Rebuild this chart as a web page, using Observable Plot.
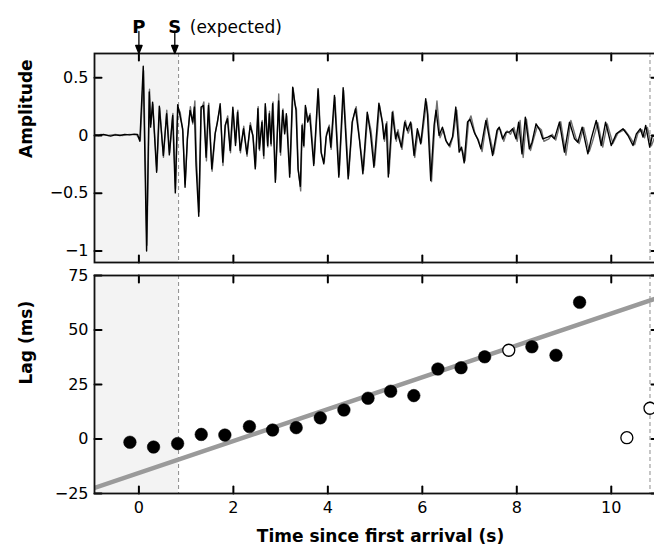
<!DOCTYPE html>
<html><head><meta charset="utf-8">
<script src="https://cdn.jsdelivr.net/npm/d3@7"></script>
<script src="https://cdn.jsdelivr.net/npm/@observablehq/plot@0.6"></script>
<style>
html,body{margin:0;padding:0;background:#fff;overflow:hidden;}
#chart{width:654px;height:556px;overflow:hidden;position:relative;background:#fff;}
#chart svg{display:block;max-width:none !important;}
</style></head><body><div id="chart"></div>
<script>
// ---- axes / ticks ----
const timeTicks = [0, 2, 4, 6, 8, 10];
const ampTicks = [-1, -0.5, 0, 0.5];
const ampTickLabels = ["\u22121", "\u22120.5", "0", "0.5"];
const lagTicks = [-25, 0, 25, 50, 75];
const lagTickLabels = ["\u221225", "0", "25", "50", "75"];
const timeDomain = [-0.94, 11];
const ampDomain = [-1.1, 0.71];
const lagDomain = [-25, 75];
const sExpected = 0.84;
const windowEnd = 10.82;
const phaseNames = ["P", "S"];
const phaseTimes = [0, 0.76];
const sNote = "(expected)";
const xTitle = "Time since first arrival (s)";
const ampTitle = "Amplitude";
const lagTitle = "Lag (ms)";

// ---- waveforms [time (s), amplitude] ----
const blackTrace = [[-0.94,0.005],[-0.85,0.0],[-0.75,0.01],[-0.6,-0.005],[-0.5,0.005],[-0.4,0.0],[-0.3,0.01],[-0.2,0.005],[-0.1,0.012],[-0.03,0.01],[0.02,-0.05],
[0.092,0.60],[0.163,-1.0],[0.219,0.376],[0.248,0.072],[0.290,0.289],[0.375,-0.318],[0.432,0.254],[0.517,-0.173],[0.587,0.188],[0.644,-0.168],[0.715,0.173],[0.771,-0.497],[0.821,0.266],[0.870,0.173],[0.927,0.058],[0.977,-0.448],[1.026,-0.029],[1.083,0.217],[1.139,0.116],[1.175,0.246],[1.210,-0.26],[1.267,-0.70],[1.316,0.246],[1.366,0.26],[1.422,-0.188],[1.472,0.26],[1.543,-0.289],[1.613,0.014],[1.663,0.116],[1.720,0.275],[1.776,-0.231],[1.826,0.087],[1.875,0.145],[1.932,-0.13],[1.989,0.246],[2.045,-0.087],[2.088,0.202],[2.144,-0.13],[2.215,0.058],[2.286,-0.159],[2.357,0.087],[2.413,0.0],[2.463,-0.289],[2.519,0.231],[2.548,-0.116],[2.605,0.116],[2.640,-0.173],[2.675,0.275],[2.725,-0.087],[2.760,0.188],[2.796,-0.072],[2.831,0.275],[2.888,-0.405],[2.958,0.30],[2.994,-0.144],[3.043,0.217],[3.086,0.014],[3.121,0.188],[3.192,-0.361],[3.256,0.419],[3.298,0.289],[3.326,0.217],[3.369,-0.289],[3.418,-0.44],[3.454,0.087],[3.489,-0.087],[3.524,0.26],[3.574,0.116],[3.616,0.173],[3.701,-0.26],[3.793,0.405],[3.857,-0.144],[3.914,-0.246],[3.963,-0.014],[4.020,0.072],[4.062,-0.101],[4.140,0.347],[4.232,-0.361],[4.324,0.413],[4.430,-0.376],[4.515,0.116],[4.586,0.231],[4.671,-0.043],[4.742,-0.332],[4.834,0.202],[4.904,0.014],[4.975,-0.275],[5.081,0.280],[5.152,0.116],[5.188,-0.029],[5.237,0.101],[5.28,-0.36],[5.365,0.202],[5.435,-0.029],[5.471,0.029],[5.556,-0.101],[5.627,0.116],[5.683,0.043],[5.754,0.116],[5.825,-0.173],[5.895,0.058],[5.966,-0.072],[6.002,0.058],[6.072,0.318],[6.108,0.188],[6.178,-0.39],[6.249,0.087],[6.29,0.22],[6.355,0.0],[6.426,0.072],[6.497,-0.043],[6.568,-0.087],[6.639,-0.014],[6.709,0.246],[6.780,-0.144],[6.830,-0.101],[6.886,-0.237],[6.957,0.116],[7.01,0.14],[7.098,0.029],[7.169,-0.029],[7.240,-0.116],[7.346,0.130],[7.396,0.029],[7.488,-0.173],[7.580,0.043],[7.629,0.072],[7.700,-0.029],[7.771,0.029],[7.841,0.029],[7.912,0.058],[7.983,-0.029],[8.040,0.116],[8.110,-0.159],[8.181,0.159],[8.266,-0.116],[8.323,-0.058],[8.408,0.101],[8.493,0.043],[8.549,-0.029],[8.655,-0.014],[8.726,0.0],[8.797,-0.029],[8.903,0.116],[9.009,-0.144],[9.116,0.116],[9.222,-0.029],[9.292,-0.058],[9.384,0.072],[9.505,-0.159],[9.575,-0.029],[9.682,0.130],[9.788,-0.087],[9.880,0.116],[10.000,-0.087],[10.106,0.014],[10.248,0.058],[10.354,0.0],[10.460,-0.087],[10.531,0.014],[10.616,0.058],[10.672,-0.014],[10.729,0.087],[10.814,-0.101],[10.870,0.0],[10.95,-0.014]];

const grayTrace = [[-0.94,0.0],[-0.8,0.008],[-0.65,0.0],[-0.5,0.01],[-0.35,0.0],[-0.2,0.01],[-0.05,0.005],[0.03,-0.04],
[0.10,0.56],[0.17,-0.95],[0.225,0.40],[0.255,0.10],[0.295,0.27],[0.38,-0.30],[0.44,0.24],[0.52,-0.19],[0.59,0.22],[0.65,-0.15],[0.72,0.19],[0.775,-0.46],[0.825,0.24],[0.875,0.20],[0.93,0.03],[0.98,-0.42],[1.03,-0.01],[1.09,0.25],[1.14,0.10],[1.185,0.30],[1.22,-0.22],[1.275,-0.66],[1.32,0.22],[1.375,0.29],[1.43,-0.22],[1.48,0.28],[1.55,-0.31],[1.62,0.03],[1.67,0.14],[1.725,0.25],[1.78,-0.26],[1.835,0.10],[1.88,0.17],[1.94,-0.15],[1.995,0.22],[2.05,-0.06],[2.095,0.22],[2.15,-0.15],[2.22,0.08],[2.29,-0.18],[2.36,0.11],[2.42,-0.02],[2.47,-0.27],[2.525,0.25],[2.555,-0.13],[2.61,0.13],[2.645,-0.20],[2.68,0.25],[2.73,-0.10],[2.765,0.21],[2.80,-0.09],[2.84,0.29],[2.895,-0.38],[2.96,0.36],[3.0,-0.17],[3.05,0.23],[3.09,0.03],[3.13,0.17],[3.20,-0.33],[3.265,0.41],[3.305,0.27],[3.335,0.23],[3.375,-0.30],[3.425,-0.48],[3.46,0.10],[3.495,-0.10],[3.535,0.24],[3.58,0.13],[3.625,0.19],[3.71,-0.24],[3.80,0.39],[3.865,-0.16],[3.925,-0.23],[3.97,0.01],[4.03,0.09],[4.07,-0.12],[4.15,0.33],[4.24,-0.34],[4.335,0.39],[4.44,-0.35],[4.525,0.13],[4.60,0.25],[4.68,-0.07],[4.755,-0.30],[4.845,0.18],[4.915,0.04],[4.99,-0.26],[5.095,0.26],[5.165,0.10],[5.20,-0.05],[5.25,0.12],[5.295,-0.33],[5.38,0.21],[5.45,-0.05],[5.485,0.05],[5.57,-0.12],[5.64,0.13],[5.70,0.02],[5.77,0.10],[5.84,-0.19],[5.91,0.04],[5.98,-0.06],[6.02,0.07],[6.09,0.29],[6.125,0.17],[6.195,-0.40],[6.265,0.10],[6.31,0.30],[6.375,-0.02],[6.445,0.05],[6.515,-0.06],[6.585,-0.10],[6.655,0.00],[6.73,0.22],[6.80,-0.12],[6.85,-0.13],[6.905,-0.22],[6.98,0.12],[7.03,0.17],[7.12,0.01],[7.19,-0.04],[7.265,-0.14],[7.37,0.15],[7.42,0.01],[7.51,-0.16],[7.605,0.06],[7.655,0.05],[7.725,-0.05],[7.795,0.04],[7.865,0.01],[7.94,0.07],[8.01,-0.05],[8.07,0.13],[8.135,-0.19],[8.205,0.14],[8.29,-0.13],[8.35,-0.04],[8.435,0.08],[8.52,0.05],[8.575,-0.05],[8.68,-0.03],[8.75,0.01],[8.825,-0.04],[8.93,0.12],[9.04,-0.17],[9.145,0.13],[9.25,-0.02],[9.32,-0.07],[9.415,0.07],[9.535,-0.14],[9.605,-0.05],[9.715,0.11],[9.82,-0.10],[9.915,0.10],[10.035,-0.07],[10.14,0.02],[10.28,0.05],[10.39,-0.01],[10.495,-0.08],[10.565,0.02],[10.65,0.05],[10.705,-0.02],[10.765,0.07],[10.85,-0.09],[10.95,0.02]];

// ---- lag measurements ----
const lagTime  = [-0.19, 0.31, 0.82, 1.32, 1.82, 2.34, 2.83, 3.33, 3.84, 4.34, 4.85, 5.33, 5.82, 6.33, 6.82, 7.32, 7.83, 8.32, 8.83, 9.33, 10.33, 10.82];
const lagValue = [-1.5, -3.7, -2.1, 2.1, 1.8, 5.7, 4.1, 5.2, 9.7, 13.3, 18.7, 21.9, 19.9, 32.1, 32.7, 37.7, 40.7, 42.3, 38.4, 62.7, 0.6, 14.1];
const lagOpen  = [false,false,false,false,false,false,false,false,false,false,false,false,false,false,false,false,true,false,false,false,true,true];
const fitTime = [-0.94, 11];
const fitLag  = [-22.4, 64.9];

// ---- build tables ----
const lagPoints = lagTime.map((t, i) => ({t, lag: lagValue[i], open: lagOpen[i]}));
const fitLine = fitTime.map((t, i) => ({t, lag: fitLag[i]}));
const phases = phaseNames.map((name, i) => ({name, t: phaseTimes[i]}));

const W = 660, ML = 94, MR = 2;
const TICK = 7;
const font = "'DejaVu Sans', sans-serif";

const arrowShape = {
  draw(context, l) {
    context.moveTo(0, 0);
    context.lineTo(0, -l + 6);
    context.moveTo(0, -l);
    context.lineTo(-3.2, -l + 8);
    context.lineTo(3.2, -l + 8);
    context.closePath();
  }
};
const tickShape = {
  draw(context, l) { context.moveTo(0, 0); context.lineTo(0, -l); }
};

function boxTicks(yTicks) {
  const o = {anchor: "start", length: TICK, shape: tickShape, stroke: "#000", strokeWidth: 2};
  return [
    Plot.vector(timeTicks, {x: d => d, frameAnchor: "bottom", rotate: 0, ...o}),
    Plot.vector(timeTicks, {x: d => d, frameAnchor: "top", rotate: 180, ...o}),
    Plot.vector(yTicks, {y: d => d, frameAnchor: "left", rotate: 90, ...o}),
    Plot.vector(yTicks, {y: d => d, frameAnchor: "right", rotate: -90, ...o})
  ];
}

const baseStyle = {fontFamily: font, fontSize: "16px", color: "#000", background: "transparent", overflow: "visible", maxWidth: "none"};

// ---- top panel ----
const topH = 263, topMT = 53, topMB = 1;
const topChart = Plot.plot({
  width: W, height: topH,
  marginLeft: ML, marginRight: MR, marginTop: topMT, marginBottom: topMB,
  style: baseStyle,
  x: {domain: timeDomain, axis: null},
  y: {domain: ampDomain, axis: null},
  marks: [
    Plot.rect([sExpected], {x1: timeDomain[0], x2: d => d, fill: "#f3f3f3"}),
    Plot.ruleX([sExpected, windowEnd], {x: d => d, stroke: "#8c8c8c", strokeWidth: 1, strokeDasharray: "4,3"}),
    Plot.line(grayTrace, {x: d => d[0], y: d => d[1], stroke: "#707070", strokeWidth: 1.4, clip: true}),
    Plot.line(blackTrace, {x: d => d[0], y: d => d[1], stroke: "#000", strokeWidth: 1.4, clip: true}),
    ...boxTicks(ampTicks),
    Plot.frame({stroke: "#111", strokeWidth: 1.8}),
    Plot.axisY(ampTicks, {tickSize: 0, tickPadding: 6, fontSize: 16, label: null,
      tickFormat: d => ampTickLabels[ampTicks.indexOf(d)]}),
    Plot.text([ampTitle], {frameAnchor: "left", rotate: -90, dx: -68, fontWeight: "bold", fontSize: 17}),
    Plot.vector(phases, {x: "t", frameAnchor: "top", anchor: "end", rotate: 180, length: 22, shape: arrowShape,
      stroke: "#000", fill: "#000", strokeWidth: 1.3}),
    Plot.text(phases, {x: "t", text: "name", frameAnchor: "top", dy: -33, fontWeight: "bold", fontSize: 18}),
    Plot.text(phases.filter(d => d.name === "S"), {x: "t", text: () => sNote, frameAnchor: "top", dy: -33,
      dx: 15, textAnchor: "start", fontSize: 17})
  ]
});

// ---- bottom panel ----
const botH = 293, botMT = 12, botMB = 63;
const bottomChart = Plot.plot({
  width: W, height: botH,
  marginLeft: ML, marginRight: MR, marginTop: botMT, marginBottom: botMB,
  style: baseStyle,
  x: {domain: timeDomain, axis: null},
  y: {domain: lagDomain, axis: null},
  marks: [
    Plot.rect([sExpected], {x1: timeDomain[0], x2: d => d, fill: "#f3f3f3"}),
    Plot.ruleX([sExpected, windowEnd], {x: d => d, stroke: "#8c8c8c", strokeWidth: 1, strokeDasharray: "4,3"}),
    Plot.line(fitLine, {x: "t", y: "lag", stroke: "#9a9a9a", strokeWidth: 4.5, clip: true}),
    Plot.dot(lagPoints.filter(d => !d.open), {x: "t", y: "lag", r: 6.3, fill: "#000", stroke: "#000", strokeWidth: 0.5}),
    Plot.dot(lagPoints.filter(d => d.open), {x: "t", y: "lag", r: 6, fill: "#fff", stroke: "#000", strokeWidth: 1.3}),
    ...boxTicks(lagTicks),
    Plot.frame({stroke: "#111", strokeWidth: 1.8}),
    Plot.axisY(lagTicks, {tickSize: 0, tickPadding: 6, fontSize: 16, label: null,
      tickFormat: d => lagTickLabels[lagTicks.indexOf(d)]}),
    Plot.axisX(timeTicks, {tickSize: 0, tickPadding: 8, fontSize: 16, label: null}),
    Plot.text([lagTitle], {frameAnchor: "left", rotate: -90, dx: -68, fontWeight: "bold", fontSize: 17}),
    Plot.text([xTitle], {frameAnchor: "bottom", dy: 48, dx: 4, fontWeight: "bold", fontSize: 17})
  ]
});

const root = document.getElementById("chart");
root.appendChild(topChart);
root.appendChild(bottomChart);
</script></body></html>
